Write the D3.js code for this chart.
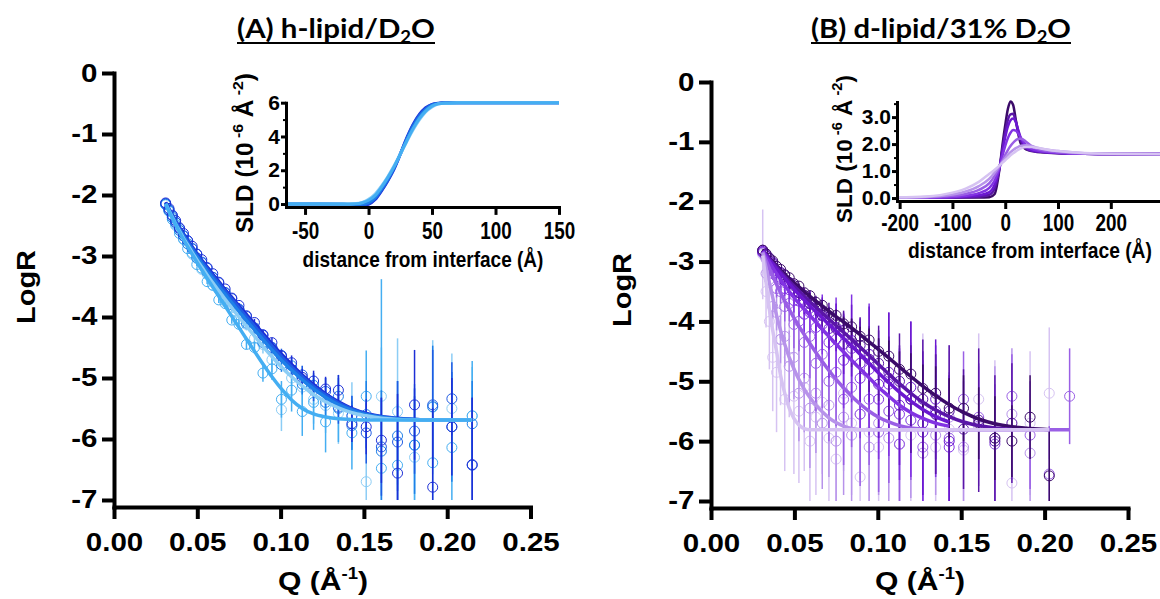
<!DOCTYPE html>
<html><head><meta charset="utf-8">
<script src="https://cdn.jsdelivr.net/npm/d3@7"></script>
<style>body{margin:0;background:#fff}svg{display:block}</style>
</head><body>
<svg id="c" width="1160" height="599"></svg>
<script>
// ---------- shared Q grid (Å^-1) ----------
const qGrid = [0.031,0.033,0.035,0.037,0.0393,0.0417,0.0442,0.0469,0.0497,0.0527,0.0559,0.0593,0.0629,0.0667,0.0707,0.075,0.0795,0.0843,0.0894,0.0948,0.1005,0.1066,0.113,0.1198,0.127,0.1347,0.1428,0.1514,0.1605,0.1702,0.1804,0.1913,0.2028,0.215];
const qTicks = [0,0.05,0.1,0.15,0.2,0.25];
const qTickLabels = ["0.00","0.05","0.10","0.15","0.20","0.25"];
const logRTicks = [0,-1,-2,-3,-4,-5,-6,-7];
const logRTickLabels = ["0","-1","-2","-3","-4","-5","-6","-7"];

// ---------- Panel A: h-lipid / D2O (5 datasets) ----------
const colorsA = ["#1d2fd6","#1f5be3","#1e80e8","#44aef2","#8ccdf5"];
const fitA1 = [-2.12,-2.23,-2.33,-2.43,-2.53,-2.64,-2.74,-2.85,-2.96,-3.07,-3.18,-3.30,-3.42,-3.55,-3.68,-3.82,-3.96,-4.11,-4.27,-4.44,-4.61,-4.78,-4.95,-5.11,-5.26,-5.39,-5.50,-5.58,-5.63,-5.66,-5.68,-5.69,-5.69,-5.69];
const fitA2 = [-2.13,-2.24,-2.34,-2.44,-2.55,-2.66,-2.76,-2.87,-2.98,-3.09,-3.21,-3.33,-3.45,-3.58,-3.71,-3.85,-4.00,-4.15,-4.31,-4.48,-4.65,-4.82,-4.98,-5.14,-5.28,-5.41,-5.51,-5.59,-5.64,-5.67,-5.68,-5.69,-5.69,-5.69];
const fitA3 = [-2.14,-2.25,-2.35,-2.46,-2.57,-2.68,-2.79,-2.90,-3.01,-3.13,-3.25,-3.37,-3.50,-3.63,-3.77,-3.91,-4.06,-4.21,-4.37,-4.54,-4.71,-4.87,-5.03,-5.18,-5.32,-5.44,-5.53,-5.60,-5.64,-5.67,-5.68,-5.69,-5.69,-5.69];
const fitA4 = [-2.15,-2.27,-2.38,-2.49,-2.61,-2.73,-2.85,-2.97,-3.10,-3.23,-3.37,-3.51,-3.66,-3.82,-3.99,-4.17,-4.36,-4.56,-4.77,-4.98,-5.18,-5.36,-5.50,-5.59,-5.64,-5.67,-5.68,-5.69,-5.69,-5.69,-5.69,-5.69,-5.69,-5.69];
const fitA5 = [-2.15,-2.26,-2.37,-2.48,-2.59,-2.71,-2.82,-2.94,-3.06,-3.18,-3.31,-3.44,-3.57,-3.71,-3.85,-4.00,-4.15,-4.31,-4.48,-4.65,-4.82,-4.98,-5.13,-5.27,-5.39,-5.49,-5.57,-5.62,-5.66,-5.68,-5.69,-5.69,-5.69,-5.69];
const dataA1 = [-2.13,-2.22,-2.34,-2.42,-2.54,-2.63,-2.75,-2.84,-2.97,-3.06,-3.19,-3.29,-3.43,-3.54,-3.69,-3.81,-3.98,-4.09,-4.29,-4.42,-4.64,-4.75,-4.99,-5.05,-5.18,-5.20,-5.75,-5.80,-6.02,-6.56,-5.44,-6.79,-5.80,-6.42];
const dataA2 = [-2.14,-2.25,-2.33,-2.45,-2.55,-2.67,-2.75,-2.88,-2.97,-3.10,-3.20,-3.35,-3.44,-3.60,-3.70,-3.87,-3.99,-4.18,-4.30,-4.50,-4.63,-4.86,-4.95,-5.20,-5.22,-5.48,-5.62,-5.90,-6.13,-6.05,-5.87,-5.44,-5.34,-6.43];
const dataA3 = [-2.15,-2.24,-2.37,-2.45,-2.58,-2.67,-2.80,-2.88,-3.03,-3.11,-3.27,-3.35,-3.52,-3.60,-3.80,-3.88,-4.10,-4.18,-4.42,-4.50,-4.78,-4.80,-5.10,-5.12,-5.40,-5.30,-5.78,-5.60,-6.20,-5.95,-6.10,-5.47,-5.80,-5.75];
const dataA4 = [-2.16,-2.26,-2.40,-2.48,-2.63,-2.72,-2.88,-2.95,-3.14,-3.20,-3.42,-3.48,-3.72,-3.78,-4.05,-4.12,-4.45,-4.50,-4.92,-4.85,-5.35,-5.20,-5.55,-5.40,-5.72,-5.50,-5.90,-5.30,-6.48,-6.43,-6.10,-6.39,-6.14,-5.62];
const dataA5 = [-2.15,-2.27,-2.36,-2.50,-2.58,-2.73,-2.80,-2.97,-3.04,-3.22,-3.30,-3.48,-3.55,-3.75,-3.85,-4.03,-4.12,-4.35,-4.45,-4.70,-5.52,-5.00,-5.15,-5.35,-5.45,-5.58,-5.62,-6.70,-5.30,-5.55,-6.30,-5.48,-5.50,-5.62];
const errA1 = [0.01,0.01,0.01,0.01,0.01,0.01,0.01,0.02,0.02,0.02,0.02,0.03,0.03,0.03,0.04,0.04,0.05,0.06,0.07,0.08,0.10,0.12,0.14,0.17,0.20,0.25,0.30,0.45,0.70,1.30,0.90,1.30,0.80,1.10];
const errA2 = [0.01,0.01,0.01,0.01,0.01,0.01,0.02,0.02,0.02,0.02,0.03,0.03,0.03,0.04,0.04,0.05,0.06,0.07,0.08,0.09,0.11,0.13,0.15,0.18,0.22,0.27,0.33,0.50,0.80,1.00,0.70,0.90,0.60,1.10];
const errA3 = [0.01,0.01,0.01,0.01,0.01,0.02,0.02,0.02,0.02,0.03,0.03,0.03,0.04,0.04,0.05,0.05,0.06,0.07,0.09,0.10,0.12,0.14,0.17,0.20,0.25,0.30,0.40,0.55,1.00,0.90,0.80,1.00,0.90,0.70];
const errA4 = [0.01,0.01,0.01,0.01,0.02,0.02,0.02,0.02,0.03,0.03,0.04,0.04,0.05,0.05,0.06,0.07,0.08,0.10,0.14,0.18,0.30,0.35,0.40,0.45,0.50,0.55,0.60,0.75,3.10,1.00,1.00,1.00,1.10,0.90];
const errA5 = [0.01,0.01,0.01,0.02,0.02,0.02,0.02,0.03,0.03,0.03,0.04,0.05,0.05,0.06,0.07,0.08,0.10,0.12,0.15,0.20,0.35,0.30,0.35,0.40,0.45,0.50,0.55,0.90,0.80,1.20,0.90,1.10,0.90,0.80];

// ---------- Panel B: d-lipid / 31% D2O (7 datasets, light -> dark) ----------
const colorsB = ["#d6c3f2","#b793ea","#9a5fe5","#8233e3","#6b18d0","#5a16a8","#3b0b69"];
const fitB1 = [-2.90,-3.35,-3.80,-4.15,-4.50,-4.90,-5.20,-5.45,-5.62,-5.73,-5.79,-5.81,-5.81,-5.81,-5.81,-5.81,-5.81,-5.81,-5.81,-5.81,-5.81,-5.81,-5.81,-5.81,-5.81,-5.81,-5.81,-5.81,-5.81,-5.81,-5.81,-5.81,-5.81];
const fitB2 = [-2.85,-3.10,-3.35,-3.60,-3.90,-4.15,-4.38,-4.60,-4.79,-4.97,-5.13,-5.27,-5.40,-5.51,-5.61,-5.69,-5.75,-5.79,-5.81,-5.81,-5.81,-5.81,-5.81,-5.81,-5.81,-5.81,-5.81,-5.81,-5.81,-5.81,-5.81,-5.81];
const fitB3 = [-2.84,-2.98,-3.11,-3.24,-3.38,-3.52,-3.66,-3.80,-3.94,-4.08,-4.22,-4.37,-4.52,-4.67,-4.82,-4.97,-5.11,-5.25,-5.38,-5.50,-5.60,-5.68,-5.74,-5.78,-5.80,-5.81,-5.81,-5.81,-5.81,-5.81,-5.81,-5.81,-5.81,-5.81];
const fitB4 = [-2.83,-2.92,-3.01,-3.10,-3.20,-3.30,-3.40,-3.50,-3.60,-3.70,-3.80,-3.90,-4.01,-4.13,-4.25,-4.38,-4.51,-4.65,-4.79,-4.94,-5.10,-5.25,-5.40,-5.52,-5.62,-5.70,-5.75];
const fitB5 = [-2.82,-2.89,-2.97,-3.04,-3.12,-3.20,-3.28,-3.37,-3.46,-3.55,-3.64,-3.74,-3.84,-3.94,-4.05,-4.16,-4.28,-4.41,-4.55,-4.70,-4.86,-5.02,-5.18,-5.33,-5.47,-5.59,-5.68];
const fitB6 = [-2.82,-2.89,-2.95,-3.02,-3.09,-3.17,-3.25,-3.33,-3.41,-3.49,-3.58,-3.67,-3.76,-3.86,-3.96,-4.07,-4.18,-4.30,-4.43,-4.57,-4.72,-4.88,-5.04,-5.20,-5.35,-5.48,-5.59,-5.68,-5.74,-5.78,-5.80];
const fitB7 = [-2.82,-2.88,-2.94,-3.00,-3.07,-3.14,-3.21,-3.28,-3.35,-3.42,-3.50,-3.58,-3.66,-3.74,-3.83,-3.92,-4.01,-4.11,-4.22,-4.34,-4.47,-4.61,-4.76,-4.92,-5.08,-5.24,-5.39,-5.52,-5.63,-5.71,-5.76,-5.79,-5.81];
const dataB1 = [-2.88,-3.50,-4.00,-4.60,-4.85,-4.30,-5.30,-4.60,-5.25,-5.50,-5.10,-6.00,-5.60,-5.35,-5.95,-6.30,-5.20,-5.70,-6.60,-5.85,-6.10,-5.50,-6.05,-5.90,-5.40,-6.10,-5.80,-6.15,-5.30,-6.05,-6.70,-5.70,-5.20];
const dataB2 = [-2.86,-3.20,-3.30,-3.75,-3.85,-4.30,-4.25,-4.75,-4.60,-5.20,-4.95,-5.45,-5.20,-5.70,-5.40,-6.00,-5.60,-5.90,-5.55,-6.10,-5.70,-5.95,-6.05,-5.65,-6.20,-5.90,-5.60,-6.10,-5.75,-5.95,-5.55,-6.20];
const dataB3 = [-2.85,-2.95,-3.15,-3.20,-3.45,-3.50,-3.75,-3.70,-4.05,-4.00,-4.35,-4.25,-4.70,-4.55,-5.00,-4.85,-5.30,-5.10,-5.55,-5.30,-5.85,-5.50,-6.05,-5.65,-6.10,-5.55,-5.95,-5.30,-5.60,-6.05,-5.25,-5.90,-6.55,-5.25];
const dataB4 = [-2.84,-2.90,-3.05,-3.08,-3.25,-3.28,-3.45,-3.47,-3.65,-3.66,-3.88,-3.85,-4.10,-4.05,-4.35,-4.30,-4.65,-4.45,-4.95,-4.80,-5.30,-5.05,-5.55,-5.30,-5.85,-5.50,-6.10];
const dataB5 = [-2.83,-2.88,-2.99,-3.02,-3.15,-3.18,-3.32,-3.35,-3.50,-3.52,-3.70,-3.70,-3.90,-3.90,-4.12,-4.10,-4.38,-4.32,-4.70,-4.55,-5.05,-4.85,-5.40,-5.10,-5.70,-5.30,-6.00];
const dataB6 = [-2.81,-2.90,-2.94,-3.04,-3.08,-3.19,-3.23,-3.36,-3.40,-3.52,-3.56,-3.70,-3.74,-3.90,-3.93,-4.12,-4.15,-4.36,-4.40,-4.63,-4.70,-4.95,-5.00,-5.30,-5.30,-5.55,-5.50,-5.80,-5.65,-6.00,-5.70];
const dataB7 = [-2.81,-2.87,-2.95,-2.99,-3.08,-3.13,-3.22,-3.27,-3.37,-3.41,-3.52,-3.57,-3.68,-3.73,-3.86,-3.90,-4.04,-4.09,-4.25,-4.31,-4.50,-4.58,-4.80,-4.88,-5.12,-5.20,-5.45,-5.45,-5.70,-5.95,-6.00,-5.60,-6.58];
const errB1 = [0.75,0.60,0.80,0.90,1.00,1.10,1.20,1.00,1.30,1.20,1.40,1.50,1.30,1.20,1.50,1.40,1.30,1.20,1.50,1.30,1.40,1.20,1.30,1.50,1.20,1.40,1.30,1.20,1.10,1.40,1.60,1.20,1.10];
const errB2 = [0.05,0.10,0.15,0.20,0.30,0.40,0.50,0.60,0.70,0.80,0.90,1.00,1.00,1.10,1.20,1.10,1.30,1.20,1.10,1.30,1.20,1.10,1.20,1.30,1.10,1.00,1.20,1.10,1.00,1.20,1.10,1.00];
const errB3 = [0.03,0.05,0.08,0.10,0.15,0.20,0.25,0.30,0.40,0.50,0.60,0.70,0.80,0.90,1.00,0.90,1.10,1.00,1.20,1.10,1.00,1.20,1.10,1.00,0.90,1.00,1.10,0.80,0.90,1.00,0.70,0.90,0.80,0.80];
const errB4 = [0.02,0.03,0.04,0.05,0.07,0.09,0.12,0.15,0.20,0.25,0.30,0.35,0.40,0.50,0.60,0.70,0.80,0.90,1.00,1.10,1.00,1.20,1.10,1.30,1.20,1.10,1.00];
const errB5 = [0.01,0.02,0.03,0.04,0.05,0.06,0.08,0.10,0.12,0.15,0.18,0.22,0.26,0.30,0.35,0.40,0.50,0.60,0.70,0.80,0.90,1.00,1.00,1.10,1.20,1.00,1.10];
const errB6 = [0.01,0.01,0.02,0.02,0.03,0.04,0.05,0.06,0.08,0.10,0.12,0.14,0.17,0.20,0.24,0.28,0.33,0.40,0.47,0.55,0.63,0.70,0.80,0.90,1.00,1.00,1.10,1.00,1.20,1.10,1.00];
const errB7 = [0.01,0.01,0.01,0.01,0.02,0.02,0.02,0.03,0.03,0.04,0.04,0.05,0.06,0.07,0.08,0.10,0.12,0.14,0.16,0.19,0.22,0.26,0.30,0.35,0.40,0.45,0.50,0.55,0.60,0.70,0.60,0.70,0.80];

// ---------- Inset A: SLD profiles ----------
const zA = [-65,-40,-20,-10,-5,0,5,10,15,20,25,30,35,40,45,50,55,60,70,80,100,150];
const sldA1 = [0,0,-0.02,-0.06,-0.08,-0.02,0.25,0.75,1.35,2.05,2.95,3.90,4.70,5.30,5.70,5.90,5.97,5.99,6,6,6,6];
const sldA2 = [0,0,-0.02,-0.04,-0.04,0.03,0.30,0.80,1.40,2.10,2.95,3.85,4.65,5.25,5.65,5.88,5.96,5.99,6,6,6,6];
const sldA3 = [0,0,-0.01,-0.02,0,0.10,0.38,0.88,1.48,2.15,2.95,3.80,4.55,5.15,5.58,5.84,5.95,5.98,6,6,6,6];
const sldA4 = [0,0,0,0.02,0.08,0.22,0.50,0.98,1.55,2.20,2.95,3.72,4.45,5.05,5.50,5.80,5.93,5.97,5.99,6,6,6];
const sldA5 = [0,0,0,0.03,0.10,0.28,0.58,1.05,1.60,2.25,2.95,3.68,4.38,4.98,5.45,5.75,5.92,5.97,5.99,6,6,6];
const insetAxTicks = [-50,0,50,100,150];
const insetAxLabels = ["-50","0","50","100","150"];
const insetAyTicks = [0,2,4,6];
const insetAyLabels = ["0","2","4","6"];

// ---------- Inset B: SLD profiles ----------
const zB = [-205,-150,-100,-75,-50,-30,-20,-10,-5,0,5,10,15,20,25,30,40,50,60,80,100,150,200,300];
const sldB1 = [0.03,0.06,0.20,0.35,0.60,0.90,1.05,1.22,1.31,1.40,1.49,1.58,1.66,1.73,1.79,1.84,1.89,1.89,1.86,1.79,1.74,1.67,1.64,1.63];
const sldB2 = [0.02,0.04,0.13,0.24,0.44,0.72,0.95,1.22,1.35,1.48,1.60,1.70,1.78,1.85,1.90,1.94,1.96,1.93,1.87,1.79,1.74,1.66,1.64,1.63];
const sldB3 = [0.02,0.03,0.08,0.15,0.30,0.55,0.82,1.20,1.40,1.60,1.78,1.93,2.05,2.14,2.20,2.20,2.08,1.92,1.82,1.74,1.70,1.65,1.63,1.63];
const sldB4 = [0.02,0.02,0.04,0.08,0.18,0.38,0.65,1.20,1.58,1.93,2.22,2.42,2.52,2.50,2.38,2.22,1.95,1.82,1.76,1.71,1.68,1.64,1.63,1.63];
const sldB5 = [0.02,0.02,0.03,0.05,0.10,0.22,0.50,1.20,1.75,2.25,2.65,2.88,2.95,2.82,2.50,2.20,1.88,1.77,1.73,1.70,1.67,1.64,1.63,1.63];
const sldB6 = [0.02,0.02,0.02,0.03,0.05,0.12,0.35,1.20,1.85,2.45,2.90,3.10,3.12,2.85,2.45,2.10,1.83,1.75,1.72,1.69,1.67,1.64,1.63,1.63];
const sldB7 = [0.02,0.02,0.02,0.02,0.02,0.03,0.15,1.20,2.00,2.70,3.30,3.58,3.45,2.90,2.35,2.00,1.80,1.74,1.71,1.68,1.66,1.64,1.63,1.63];
const insetBxTicks = [-200,-100,0,100,200];
const insetBxLabels = ["-200","-100","0","100","200"];
const insetByTicks = [0,1,2,3];
const insetByLabels = ["0.0","1.0","2.0","3.0"];

// ================= drawing =================
const svg = d3.select("#c");
const AX = "Liberation Sans, Arial, sans-serif";

function styleAxis(g, w) {
  g.select(".domain").attr("stroke","#000").attr("stroke-width",w).attr("stroke-linecap","square");
  g.selectAll(".tick line").attr("stroke","#000").attr("stroke-width",w);
  g.selectAll("text").attr("fill","#000");
}

// place a text so that its drawn width equals `len` (horizontal stretch only)
function fitText(t, x, y, len, rot) {
  const w = t.node().getComputedTextLength();
  const s = len / w;
  t.attr("x",0).attr("y",0).attr("text-anchor","middle")
   .attr("transform",`translate(${x},${y})${rot?" rotate(-90)":""} scale(${s},1)`);
}

function mainPanel(cfg) {
  const g = svg.append("g");
  const x = d3.scaleLinear().domain([0,0.25]).range([cfg.xl,cfg.xr]);
  const y = d3.scaleLinear().domain([0,cfg.yMin]).range([cfg.yt,cfg.yb]);
  const clipLo = y(-7.0);
  cfg.series.forEach(s => {
    const pts = s.data.map((v,i)=>({q:qGrid[i], v:v, e:s.err[i]}));
    g.append("g").selectAll("line").data(pts).join("line")
      .attr("x1",d=>x(d.q)).attr("x2",d=>x(d.q))
      .attr("y1",d=>y(d.v+d.e)).attr("y2",d=>Math.min(clipLo, y(d.v-d.e)))
      .attr("stroke",s.color).attr("stroke-width",1.5);
    g.append("g").selectAll("circle").data(pts).join("circle")
      .attr("cx",d=>x(d.q)).attr("cy",d=>y(d.v)).attr("r",5)
      .attr("fill","none").attr("stroke",s.color).attr("stroke-width",1);
  });
  const line = d3.line().x(d=>x(d[0])).y(d=>y(d[1])).curve(d3.curveMonotoneX);
  cfg.fitOrder.forEach(k => {
    const s = cfg.series[k];
    const pts = s.fit.map((v,i)=>[qGrid[i],v]);
    g.append("path").attr("d",line(pts)).attr("fill","none")
      .attr("stroke",s.color).attr("stroke-width",3.5).attr("stroke-linejoin","round");
  });
  const gx = g.append("g").attr("transform",`translate(0,${cfg.yb})`)
    .call(d3.axisBottom(x).tickValues(qTicks).tickFormat((d,i)=>qTickLabels[i]).tickSize(12).tickSizeOuter(0).tickPadding(14));
  styleAxis(gx,4);
  gx.selectAll("text").attr("font-family",AX).attr("font-weight","bold").attr("font-size",25).attr("transform","scale(1.18,1)");
  const gy = g.append("g").attr("transform",`translate(${cfg.xl},0)`)
    .call(d3.axisLeft(y).tickValues(logRTicks).tickFormat((d,i)=>logRTickLabels[i]).tickSize(12).tickSizeOuter(0).tickPadding(2));
  styleAxis(gy,4);
  gy.selectAll("text").attr("font-family",AX).attr("font-weight","bold").attr("font-size",25).attr("transform","scale(1.18,1)");
  const lt = svg.append("text").attr("font-family",AX).attr("font-weight","bold").attr("font-size",26).text("LogR");
  fitText(lt, cfg.ylabX, cfg.ylabY, 74, true);
  const qt = svg.append("text").attr("font-family",AX).attr("font-weight","bold").attr("font-size",26);
  qt.append("tspan").text("Q (Å");
  qt.append("tspan").attr("dy",-11).attr("font-size",16).text("-1");
  qt.append("tspan").attr("dy",11).text(")");
  fitText(qt, cfg.xlabX, 590, 90, false);
}

function inset(cfg) {
  const g = svg.append("g");
  const x = d3.scaleLinear().domain(cfg.xDom).range(cfg.xRange);
  const y = d3.scaleLinear().domain(cfg.yDom).range(cfg.yRange);
  const line = d3.line().x(d=>x(d[0])).y(d=>y(d[1])).curve(d3.curveMonotoneX);
  cfg.series.forEach(s => {
    g.append("path").attr("d",line(s.v.map((v,i)=>[cfg.z[i],v]))).attr("fill","none")
      .attr("stroke",s.color).attr("stroke-width",cfg.lw).attr("stroke-linejoin","round");
  });
  const gx = g.append("g").attr("transform",`translate(0,${cfg.yRange[0]})`)
    .call(d3.axisBottom(x).tickValues(cfg.xTicks).tickFormat((d,i)=>cfg.xLabels[i]).tickSize(8).tickSizeOuter(0).tickPadding(cfg.xPad));
  styleAxis(gx,3);
  gx.selectAll("text").attr("font-family",AX).attr("font-weight","bold").attr("font-size",cfg.xFont).attr("transform","scale(0.82,1)");
  const gyMinor = g.append("g").attr("transform",`translate(${cfg.xRange[0]},0)`)
    .call(d3.axisLeft(y).tickValues(cfg.yMinor).tickFormat("").tickSize(3).tickSizeOuter(0));
  styleAxis(gyMinor,2);
  gyMinor.select(".domain").remove();
  const gy = g.append("g").attr("transform",`translate(${cfg.xRange[0]},0)`)
    .call(d3.axisLeft(y).tickValues(cfg.yTicks).tickFormat((d,i)=>cfg.yLabels[i]).tickSize(5).tickSizeOuter(0).tickPadding(1));
  styleAxis(gy,3);
  gy.selectAll("text").attr("font-family",AX).attr("font-weight","bold").attr("font-size",21);
  const xt = svg.append("text").attr("font-family",AX).attr("font-weight","bold").attr("font-size",22)
    .text("distance from interface (Å)");
  fitText(xt, cfg.xtX, cfg.xtY, cfg.xtLen, false);
  const yt = svg.append("text").attr("font-family",AX).attr("font-weight","bold").attr("font-size",23);
  yt.append("tspan").text("SLD (10");
  yt.append("tspan").attr("dy",-10).attr("font-size",15).text(" -6");
  yt.append("tspan").attr("dy",10).text(" Å");
  yt.append("tspan").attr("dy",-10).attr("font-size",15).text(" -2");
  yt.append("tspan").attr("dy",10).text(")");
  fitText(yt, cfg.ytX, cfg.ytY, cfg.ytLen, true);
}

function title(cx, base, pre, post, len) {
  const t = svg.append("text")
    .attr("font-family","Lato, 'Open Sans', sans-serif").attr("font-weight","bold").attr("font-size",27);
  t.append("tspan").text(pre);
  t.append("tspan").attr("dy",5).attr("font-size",17).text("2");
  t.append("tspan").attr("dy",-5).text(post);
  fitText(t, cx, base, len, false);
  svg.append("line").attr("x1",cx-len/2).attr("x2",cx+len/2).attr("y1",base+5).attr("y2",base+5)
    .attr("stroke","#000").attr("stroke-width",2);
}

// ---- Panel A ----
title(336, 38, "(A) h-lipid/D", "O", 198);
mainPanel({
  xl:114, xr:530.5, yt:73, yb:507, yMin:-7.115, ylabX:35, ylabY:287, xlabX:323,
  series:[
    {data:dataA5, err:errA5, fit:fitA5, color:colorsA[4]},
    {data:dataA4, err:errA4, fit:fitA4, color:colorsA[3]},
    {data:dataA3, err:errA3, fit:fitA3, color:colorsA[2]},
    {data:dataA2, err:errA2, fit:fitA2, color:colorsA[1]},
    {data:dataA1, err:errA1, fit:fitA1, color:colorsA[0]}
  ],
  fitOrder:[4,3,2,0,1]
});
inset({
  xDom:[-65,150], xRange:[286,559], yDom:[-0.17,6], yRange:[206.9,102.7], z:zA, lw:3,
  xTicks:insetAxTicks, xLabels:insetAxLabels, yTicks:insetAyTicks, yLabels:insetAyLabels, yMinor:[1,3,5],
  xPad:8, xFont:23,
  series:[
    {v:sldA1,color:colorsA[0]},{v:sldA2,color:colorsA[1]},{v:sldA3,color:colorsA[2]},
    {v:sldA5,color:colorsA[4]},{v:sldA4,color:colorsA[3]}
  ],
  xtX:423, xtY:267, xtLen:241, ytX:253, ytY:153, ytLen:160
});

// ---- Panel B ----
title(941, 38, "(B) d-lipid/31% D", "O", 260);
mainPanel({
  xl:711, xr:1128, yt:82, yb:508, yMin:-7.117, ylabX:631, ylabY:290, xlabX:920,
  series:[
    {data:dataB1, err:errB1, fit:fitB1, color:colorsB[0]},
    {data:dataB2, err:errB2, fit:fitB2, color:colorsB[1]},
    {data:dataB3, err:errB3, fit:fitB3, color:colorsB[2]},
    {data:dataB4, err:errB4, fit:fitB4, color:colorsB[3]},
    {data:dataB5, err:errB5, fit:fitB5, color:colorsB[4]},
    {data:dataB6, err:errB6, fit:fitB6, color:colorsB[5]},
    {data:dataB7, err:errB7, fit:fitB7, color:colorsB[6]}
  ],
  fitOrder:[6,5,4,3,2,1,0]
});
inset({
  xDom:[-205,300], xRange:[897,1163.6], yDom:[-0.11,3.56], yRange:[201,102], z:zB, lw:2.5,
  xTicks:insetBxTicks, xLabels:insetBxLabels, yTicks:insetByTicks, yLabels:insetByLabels, yMinor:[0.5,1.5,2.5,3.5],
  xPad:6, xFont:23,
  series:[
    {v:sldB7,color:colorsB[6]},{v:sldB6,color:colorsB[5]},{v:sldB5,color:colorsB[4]},
    {v:sldB4,color:colorsB[3]},{v:sldB3,color:colorsB[2]},{v:sldB2,color:colorsB[1]},{v:sldB1,color:colorsB[0]}
  ],
  xtX:1030, xtY:258, xtLen:244, ytX:852, ytY:149, ytLen:148
});
</script>
</body></html>
